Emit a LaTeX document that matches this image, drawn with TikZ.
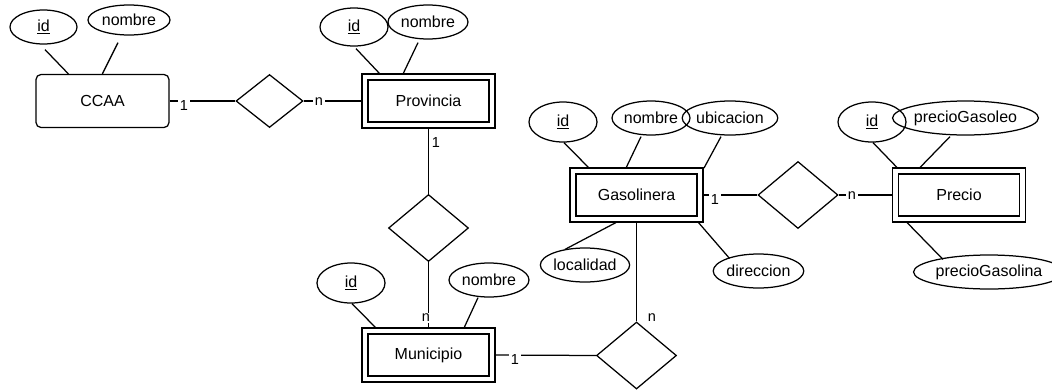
\documentclass[tikz,border=0pt]{standalone}
\usepackage{fontspec}
\setmainfont{Liberation Sans}
\usetikzlibrary{shapes.geometric,calc}
\tikzset{
  lw/.style={line width=1.25pt},
  ent/.style={lw, draw, rounded corners=5pt, minimum width=133pt, minimum height=53pt, inner sep=0pt, font=\fontsize{16}{19}\selectfont},
  weak/.style={lw, draw, double, double distance=4.8pt, minimum width=127pt, minimum height=48pt, inner sep=0pt, outer sep=3pt, font=\fontsize{16}{19}\selectfont},
  attr/.style={lw, draw, ellipse, inner sep=0pt, font=\fontsize{16}{19}\selectfont},
  rel/.style={lw, draw, diamond, inner sep=0pt},
  lab/.style={fill=white, inner sep=1.5pt, font=\fontsize{14.5}{17}\selectfont},
  conn/.style={lw}
}
\begin{document}
\begin{tikzpicture}[x=1pt,y=-1pt]
\useasboundingbox (0,0) rectangle (1052,389);
% entities
\node[ent] (ccaa) at (102.5,101) {CCAA};
\node[weak] (prov) at (428.5,101) {Provincia};
\node[weak] (mun) at (428.5,355) {Municipio};
\node[weak] (gas) at (636.5,195) {Gasolinera};
\node[weak] (prec) at (959,195) {Precio};
% relationships
\node[rel, minimum width=67pt, minimum height=53pt] (d1) at (269.5,101) {};
\node[rel, minimum width=80pt, minimum height=67pt] (d2) at (428.5,228) {};
\node[rel, minimum width=80pt, minimum height=67pt] (d3) at (636.5,355.5) {};
\node[rel, minimum width=80pt, minimum height=67pt] (d4) at (798,195) {};
% attributes
\node[attr, minimum width=67pt, minimum height=34pt] (cid) at (43.5,27) {\underline{id}};
\node[attr, minimum width=82pt, minimum height=30pt] (cnom) at (129,20) {nombre};
\node[attr, minimum width=68pt, minimum height=38pt] (pid) at (354,27) {\underline{id}};
\node[attr, minimum width=80pt, minimum height=34pt] (pnom) at (428,22) {nombre};
\node[attr, minimum width=68pt, minimum height=40pt] (mid) at (351,283) {\underline{id}};
\node[attr, minimum width=80pt, minimum height=34pt] (mnom) at (489,280) {nombre};
\node[attr, minimum width=68pt, minimum height=40pt] (gid) at (563,122) {\underline{id}};
\node[attr, minimum width=78pt, minimum height=34pt] (gnom) at (651,118) {nombre};
\node[attr, minimum width=80pt, minimum height=34pt] (gubi) at (730,118) {ubicacion};
\node[attr, minimum width=80pt, minimum height=34pt] (gloc) at (585,265) {localidad};
\node[attr, minimum width=82pt, minimum height=34pt] (gdir) at (758.5,271) {direccion};
\node[attr, minimum width=68pt, minimum height=40pt] (rid) at (872,122) {\underline{id}};
\node[attr, minimum width=121pt, minimum height=34pt] (rgaso) at (965.5,118) {precioGasoleo};
\node[attr, minimum width=125pt, minimum height=34pt] (rgasl) at (989,272) {precioGasolina};
% attribute links
\draw[conn] ($(cid.south)+(1.5,5)$) -- ($(ccaa.north west)+(33,0)$);
\draw[conn] ($(cnom.south)+(-11,7)$) -- ($(ccaa.north west)+(67,0)$);
\draw[conn] ($(pid.south)+(2,2)$) -- ($(prov.north west)+(18,0)$);
\draw[conn] ($(pnom.south)+(-10,3)$) -- ($(prov.north west)+(41,0)$);
\draw[conn] ($(mid.south)+(1,0)$) -- ($(mun.north west)+(14,0)$);
\draw[conn] ($(mnom.south)+(-11,0)$) -- ($(mun.north west)+(102,0)$);
\draw[conn] ($(gid.south)+(1,0)$) -- ($(gas.north west)+(19,0)$);
\draw[conn] ($(gnom.south)+(-10,1)$) -- ($(gas.north west)+(56,0)$);
\draw[conn] ($(gubi.south)+(-9,1)$) -- ($(gas.north east)+(1,0)$);
\draw[conn] ($(gas.south west)+(47,0)$) -- ($(gloc.north)+(-20,2)$);
\draw[conn] ($(gas.south east)+(-5,0)$) -- ($(gdir.north)+(-29,5)$);
\draw[conn] ($(rid.south)+(1,0)$) -- ($(prec.north west)+(5,0)$);
\draw[conn] ($(rgaso.south)+(-15.5,1)$) -- ($(prec.north west)+(27,0)$);
\draw[conn] ($(prec.south west)+(14,0)$) -- ($(rgasl.north)+(-46,5)$);
% relationship links
\draw[conn] (ccaa.east) -- (d1.west);
\draw[conn] (d1.east) -- (prov.west);
\draw[conn] (prov.south) -- (d2.north);
\draw[conn] (d2.south) -- (mun.north);
\draw[conn] (mun.east) -- (d3.west);
\draw[conn] (gas.south) -- (d3.north);
\draw[conn] (gas.east) -- (d4.west);
\draw[conn] (d4.east) -- (prec.west);
% cardinality labels
\node[lab] (l1) at (184,106) {1};
\node[lab] (l2) at (319,101.5) {n};
\node[lab] (l3) at (436,143) {1};
\node[lab] (l4) at (426,318) {n};
\node[lab] (l5) at (515,360) {1};
\node[lab] (l6) at (652,318) {n};
\node[lab] (l7) at (715,200) {1};
\node[lab] (l8) at (852,196) {n};
\end{tikzpicture}
\end{document}
